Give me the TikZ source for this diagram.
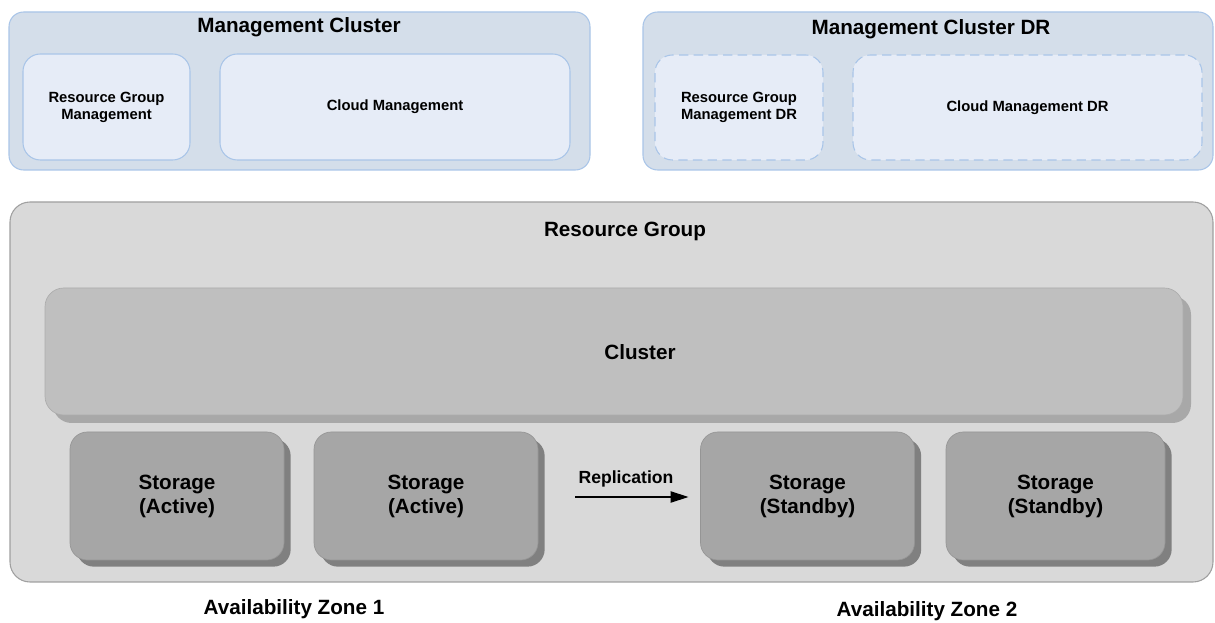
\documentclass[tikz,border=0pt]{standalone}
\usepackage{fontspec}
\setmainfont{Liberation Sans}
\usepackage{xcolor}
\usepackage{tikz}
\usetikzlibrary{positioning,arrows.meta,shadows}

\definecolor{mgmtfill}{HTML}{D4DEEA}
\definecolor{mgmtline}{HTML}{A9C5E8}
\definecolor{innerfill}{HTML}{E6ECF7}
\definecolor{rgfill}{HTML}{D9D9D9}
\definecolor{rgline}{HTML}{A0A0A0}
\definecolor{clusterfill}{HTML}{BFBFBF}
\definecolor{clustershade}{HTML}{A8A8A8}
\definecolor{storefill}{HTML}{A6A6A6}
\definecolor{storeshade}{HTML}{808080}

\begin{document}
\begin{tikzpicture}[x=0.75pt, y=-0.75pt,
    every node/.style={inner sep=0pt, outer sep=0pt},
    bigtext/.style={font=\fontsize{15.5}{18}\selectfont\bfseries},
    smalltext/.style={font=\fontsize{11.1}{12.8}\selectfont\bfseries, align=center},
    mgmt/.style={draw=mgmtline, fill=mgmtfill, line width=0.8pt, rounded corners=11pt},
    inner/.style={draw=mgmtline, fill=innerfill, line width=0.8pt, rounded corners=13pt, smalltext},
    innerdr/.style={inner, dash pattern=on 7pt off 4pt},
    rgbox/.style={draw=rgline, fill=rgfill, line width=0.8pt, rounded corners=15pt},
    clusterbox/.style={draw=clusterfill!90!black, fill=clusterfill, line width=0.5pt, rounded corners=14pt,
        drop shadow={shadow xshift=6pt, shadow yshift=-6pt, fill=clustershade, opacity=1}},
    storebox/.style={draw=storefill!90!black, fill=storefill, line width=0.5pt, rounded corners=13pt,
        minimum width=160.5pt, minimum height=96pt, align=center,
        font=\fontsize{15.5}{18}\selectfont\bfseries,
        drop shadow={shadow xshift=5pt, shadow yshift=-5pt, fill=storeshade, opacity=1}}]
    \useasboundingbox[fill=white] (0,0) rectangle (1215,623);

    % Management clusters
    \node[mgmt, minimum width=435.75pt, minimum height=118.5pt] (mc) at (299.5,91) {};
    \node[bigtext] (mc_title) at (299,27) {Management Cluster};
    \node[inner, minimum width=125.25pt, minimum height=79.5pt] (rgm) at (106.5,107) {Resource Group\\Management};
    \node[inner, minimum width=262.5pt, minimum height=79.5pt] (cm) at (395,107) {Cloud Management};

    \node[mgmt, minimum width=427.5pt, minimum height=118.5pt] (mcdr) at (928,91) {};
    \node[bigtext] (mcdr_title) at (931,29) {Management Cluster DR};
    \node[innerdr, minimum width=126pt, minimum height=78.75pt] (rgmdr) at (739,107.5) {Resource Group\\Management DR};
    \node[innerdr, minimum width=261.75pt, minimum height=78.75pt] (cmdr) at (1027.5,107.5) {Cloud Management DR};

    % Resource group
    \node[rgbox, minimum width=902.25pt, minimum height=285pt] (rg) at (611.5,392) {};
    \node[bigtext] (rg_title) at (625,231) {Resource Group};
    \node[clusterbox, minimum width=853.5pt, minimum height=95.25pt] (cluster) at (614,351.5) {};
    \node[bigtext] (cluster_title) at (640,352) {Cluster};

    % Storage
    \node[storebox] (store1) at (177,496) {Storage\\(Active)};
    \node[storebox, minimum width=168pt] (store2) at (426,496) {Storage\\(Active)};
    \node[storebox] (store3) at (807.5,496) {Storage\\(Standby)};
    \node[storebox, minimum width=164.25pt] (store4) at (1055.5,496) {Storage\\(Standby)};

    % Replication
    \node[font=\fontsize{13.2}{15}\selectfont\bfseries] (rep) at (626,479) {Replication};
    \coordinate (rep_start) at (575,497);
    \draw[-{Triangle[length=13.5pt,width=8.5pt]}, line width=1pt, shorten >=9pt] (rep_start) -- (rep_start -| store3.west);

    % Zones
    \node[bigtext] (az1) at (294,609) {Availability Zone 1};
    \node[bigtext] (az2) at (927,611) {Availability Zone 2};
\end{tikzpicture}
\end{document}
